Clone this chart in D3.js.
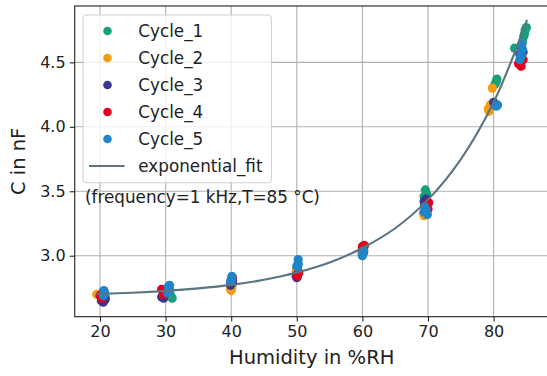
<!DOCTYPE html>
<html>
<head>
<meta charset="utf-8">
<script src="https://cdn.jsdelivr.net/npm/d3@7"></script>
<style>
  html, body { margin: 0; padding: 0; background: #fff; }
  svg { display: block; font-family: "DejaVu Sans", sans-serif; }
</style>
</head>
<body>
<svg id="chart" width="547" height="376"></svg>
<script>
// values
const xTicks = [20, 30, 40, 50, 60, 70, 80];
const yTicks = [3.0, 3.5, 4.0, 4.5];

const cycle1Hum = [20.4, 20.6, 20.8, 30.8, 31.0, 30.6, 40.0, 40.2, 40.1, 50.0, 50.2, 50.1, 60.0, 60.2, 60.1, 69.4, 69.6, 69.8, 69.5, 80.2, 80.5, 80.4, 83.2, 84.4, 84.6, 84.8, 85.0, 84.7];
const cycle1Cap = [2.70, 2.72, 2.68, 2.69, 2.67, 2.71, 2.79, 2.81, 2.77, 2.90, 2.93, 2.88, 3.04, 3.07, 3.02, 3.46, 3.51, 3.48, 3.43, 4.33, 4.37, 4.35, 4.61, 4.66, 4.70, 4.75, 4.77, 4.72];

const cycle2Hum = [19.5, 20.2, 20.4, 29.8, 30.2, 30.0, 39.9, 40.1, 40.0, 49.9, 50.1, 50.0, 59.9, 60.1, 60.0, 69.3, 69.6, 69.4, 79.2, 79.5, 79.3, 79.8, 84.0, 84.3, 84.1];
const cycle2Cap = [2.70, 2.68, 2.71, 2.72, 2.70, 2.74, 2.74, 2.76, 2.73, 2.88, 2.91, 2.86, 3.02, 3.05, 3.07, 3.33, 3.36, 3.31, 4.14, 4.17, 4.12, 4.30, 4.60, 4.64, 4.57];

const cycle3Hum = [20.2, 20.5, 20.8, 29.4, 30.0, 29.7, 39.9, 40.2, 40.0, 49.9, 50.2, 50.0, 60.0, 60.2, 69.4, 69.7, 69.5, 80.0, 80.3, 84.0, 84.3, 84.5];
const cycle3Cap = [2.65, 2.64, 2.66, 2.68, 2.70, 2.67, 2.77, 2.80, 2.79, 2.84, 2.86, 2.83, 3.05, 3.03, 3.42, 3.44, 3.39, 4.19, 4.17, 4.56, 4.61, 4.58];

const cycle4Hum = [20.0, 20.5, 20.3, 29.4, 30.1, 29.6, 40.0, 40.2, 40.1, 50.0, 50.3, 50.1, 60.0, 60.3, 60.2, 69.8, 70.1, 70.0, 83.8, 84.2, 84.5, 84.0];
const cycle4Cap = [2.69, 2.72, 2.67, 2.74, 2.72, 2.70, 2.80, 2.83, 2.82, 2.85, 2.87, 2.84, 3.07, 3.08, 3.06, 3.38, 3.41, 3.36, 4.49, 4.47, 4.52, 4.50];

const cycle5Hum = [20.5, 20.7, 20.6, 30.3, 30.6, 30.6, 30.4, 39.9, 40.1, 40.1, 40.0, 50.1, 50.2, 50.2, 50.0, 60.0, 60.2, 60.1, 69.4, 69.7, 69.9, 69.5, 80.4, 80.6, 84.0, 84.2, 84.4, 84.3, 84.1];
const cycle5Cap = [2.69, 2.71, 2.73, 2.71, 2.74, 2.77, 2.76, 2.80, 2.82, 2.84, 2.81, 2.91, 2.94, 2.97, 2.92, 3.00, 3.04, 3.02, 3.34, 3.36, 3.32, 3.38, 4.16, 4.17, 4.52, 4.56, 4.60, 4.64, 4.54];

// fit curve
const fitHum = [19.5, 25, 30, 35, 40, 45, 50, 55, 60, 65, 70, 75, 80, 85.1];
const fitCap = [2.703, 2.713, 2.727, 2.747, 2.774, 2.813, 2.869, 2.947, 3.06, 3.213, 3.435, 3.748, 4.19, 4.83];

const seriesNames = ['Cycle_1', 'Cycle_2', 'Cycle_3', 'Cycle_4', 'Cycle_5'];
const seriesColors = ['#17a07c', '#f39c12', '#38388c', '#e3001b', '#1f85c8'];
const fitColor = '#5c7382';

const series = [
  [cycle1Hum, cycle1Cap],
  [cycle2Hum, cycle2Cap],
  [cycle3Hum, cycle3Cap],
  [cycle4Hum, cycle4Cap],
  [cycle5Hum, cycle5Cap],
].map(([h, c], i) => ({
  name: seriesNames[i],
  color: seriesColors[i],
  points: h.map((v, j) => [v, c[j]]),
}));

const fitPoints = fitHum.map((v, i) => [v, fitCap[i]]);

const svg = d3.select('#chart');
const pLeft = 74.7, pRight = 548.7, pTop = 6, pBottom = 316.7;

const x = d3.scaleLinear().domain([16.14, 88.4]).range([pLeft, pRight]);
const y = d3.scaleLinear().domain([2.527, 4.937]).range([pBottom, pTop]);

// grid
const grid = svg.append('g');
grid.selectAll('line.gx')
  .data(xTicks)
  .join('line')
  .attr('class', 'gx')
  .attr('x1', (d) => x(d)).attr('x2', (d) => x(d))
  .attr('y1', pTop).attr('y2', pBottom)
  .attr('stroke', '#b0b0b0').attr('stroke-width', 1.1);
grid.selectAll('line.gy')
  .data(yTicks)
  .join('line')
  .attr('class', 'gy')
  .attr('x1', pLeft).attr('x2', pRight)
  .attr('y1', (d) => y(d)).attr('y2', (d) => y(d))
  .attr('stroke', '#b0b0b0').attr('stroke-width', 1.1);

// scatter
const pts = svg.append('g');
series.forEach((s) => {
  pts.append('g')
    .selectAll('circle')
    .data(s.points)
    .join('circle')
    .attr('cx', (d) => x(d[0]))
    .attr('cy', (d) => y(d[1]))
    .attr('r', 4.6)
    .attr('fill', s.color);
});

// fit line
svg.append('path')
  .datum(fitPoints)
  .attr('fill', 'none')
  .attr('stroke', fitColor)
  .attr('stroke-width', 2.1)
  .attr('d', d3.line().x((d) => x(d[0])).y((d) => y(d[1])).curve(d3.curveCatmullRom));

// axes
const xAxis = svg.append('g')
  .attr('transform', `translate(0,${pBottom})`)
  .call(d3.axisBottom(x).tickValues(xTicks).tickFormat(d3.format('d')).tickSize(4.9).tickPadding(4.2));
const yAxis = svg.append('g')
  .attr('transform', `translate(${pLeft},0)`)
  .call(d3.axisLeft(y).tickValues(yTicks).tickFormat(d3.format('.1f')).tickSize(4.9).tickPadding(4.2));

[xAxis, yAxis].forEach((a) => {
  a.select('.domain').remove();
  a.selectAll('line').attr('stroke', '#222').attr('stroke-width', 1.1);
  a.selectAll('text')
    .attr('font-family', 'DejaVu Sans').attr('font-size', 16).attr('fill', '#222');
});

// spines
svg.append('rect')
  .attr('x', pLeft).attr('y', pTop)
  .attr('width', pRight - pLeft).attr('height', pBottom - pTop)
  .attr('fill', 'none').attr('stroke', '#222').attr('stroke-width', 1.1);

// axis labels
svg.append('text')
  .attr('x', (pLeft + pRight) / 2).attr('y', 364)
  .attr('text-anchor', 'middle')
  .attr('font-size', 19.5).attr('fill', '#222')
  .text('Humidity in %RH');
svg.append('text')
  .attr('transform', `translate(25,${(pTop + pBottom) / 2}) rotate(-90)`)
  .attr('text-anchor', 'middle')
  .attr('font-size', 19.5).attr('fill', '#222')
  .text('C in nF');

// legend
const lg = svg.append('g');
lg.append('rect')
  .attr('x', 83).attr('y', 15).attr('width', 188.5).attr('height', 167.7)
  .attr('rx', 4)
  .attr('fill', '#fff').attr('fill-opacity', 0.8)
  .attr('stroke', '#d0d0d0').attr('stroke-width', 1.1);

const rows = series.map((s) => ({ name: s.name, color: s.color, type: 'dot' }))
  .concat([{ name: 'exponential_fit', color: fitColor, type: 'line' }]);

const row = lg.selectAll('g.row')
  .data(rows)
  .join('g')
  .attr('class', 'row')
  .attr('transform', (d, i) => `translate(0,${31 + i * 27})`);

row.filter((d) => d.type === 'dot')
  .append('circle')
  .attr('cx', 107.5).attr('cy', 0).attr('r', 4.3)
  .attr('fill', (d) => d.color);
row.filter((d) => d.type === 'line')
  .append('line')
  .attr('x1', 89).attr('x2', 124.5).attr('y1', 0).attr('y2', 0)
  .attr('stroke', (d) => d.color).attr('stroke-width', 2.1);
row.append('text')
  .attr('x', 138.3).attr('y', 6)
  .attr('font-size', 16.8).attr('fill', '#222')
  .text((d) => d.name);

// annotation
svg.append('text')
  .attr('x', 85).attr('y', 202.5)
  .attr('font-size', 16.8).attr('fill', '#222')
  .text('(frequency=1 kHz,T=85 °C)');
</script>
</body>
</html>
